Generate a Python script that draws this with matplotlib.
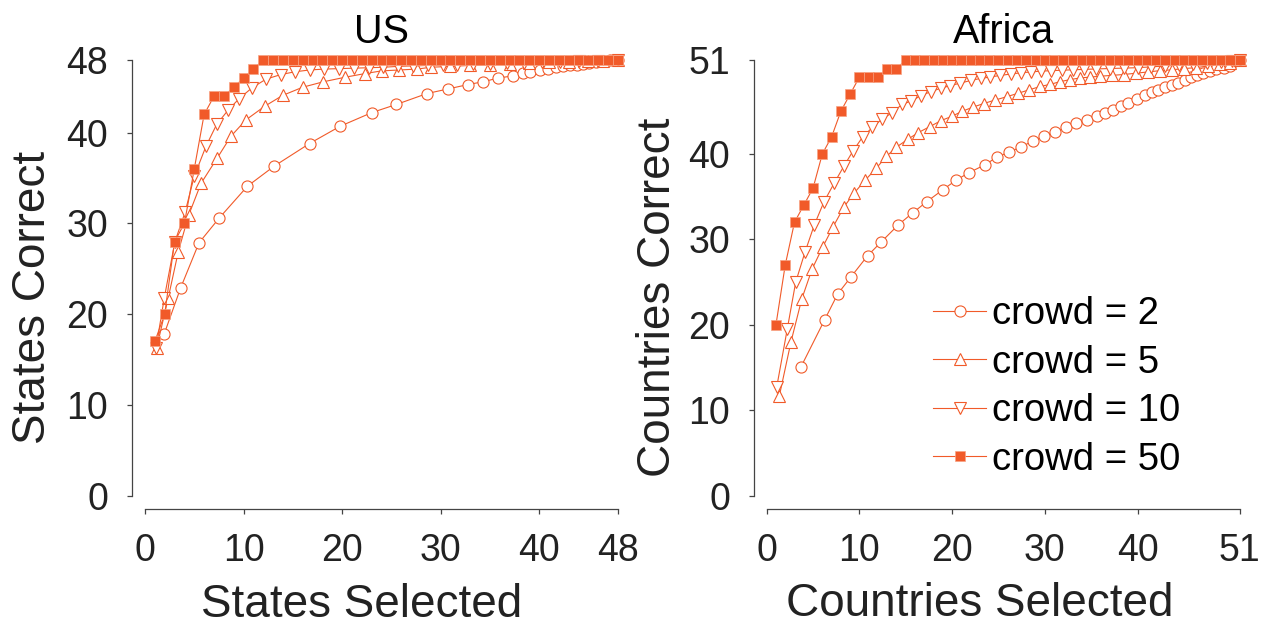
import numpy as np
import matplotlib
matplotlib.use('Agg')
import matplotlib.pyplot as plt

plt.rcParams['font.family'] = ['Liberation Sans', 'DejaVu Sans']

# ---- US panel ----
us_c2_x = [1.96, 3.62, 5.48, 7.54, 10.4, 13.1, 16.7, 19.8, 23.0, 25.5, 28.6, 30.7, 32.8, 34.3,
           35.8, 37.3, 38.4, 39.1, 40.1, 40.9, 41.75, 42.4, 43.1, 43.8, 44.45, 45.1, 45.8,
           46.5, 47.2, 48]
us_c2_y = [17.85, 22.9, 27.86, 30.6, 34.1, 36.3, 38.8, 40.7, 42.2, 43.1, 44.3, 44.8, 45.3, 45.6,
           46.0, 46.25, 46.55, 46.65, 46.9, 47.06, 47.2, 47.3, 47.4, 47.5, 47.6, 47.7, 47.8,
           47.85, 47.95, 48]

us_c5_x = [1.19, 2.36, 3.38, 4.43, 5.68, 7.33, 8.72, 10.24, 12.14, 13.97, 16.0, 18.1, 20.3, 22.3,
           24.0, 25.8, 27.6, 29.0, 31.0, 33.0, 35.0, 37.0, 39.0, 41.0, 43.0, 45.0, 46.5, 48]
us_c5_y = [16.3, 21.8, 26.9, 30.9, 34.4, 37.2, 39.6, 41.4, 42.9, 44.1, 45.0, 45.6, 46.1, 46.5,
           46.8, 46.9, 47.0, 47.2, 47.3, 47.4, 47.5, 47.6, 47.7, 47.75, 47.8, 47.85, 47.9, 48]

us_c10_x = [1.12, 1.96, 3.04, 4.06, 5.0, 6.19, 7.27, 8.45, 9.56, 10.9, 12.3, 13.8, 15.2, 16.7,
            18.2, 19.7, 21.2, 22.7, 24.2, 25.7, 27.2, 28.7, 30.2, 31.7, 33.3, 35.0, 36.7, 38.5,
            40.3, 42.1, 44.0, 46.0, 48]
us_c10_y = [16.3, 21.8, 28.0, 31.2, 35.2, 38.5, 40.9, 42.5, 43.75, 44.97, 45.9, 46.4, 46.7, 46.9,
            47.0, 47.05, 47.1, 47.15, 47.2, 47.3, 47.35, 47.4, 47.45, 47.5, 47.55, 47.6, 47.65,
            47.7, 47.75, 47.8, 47.85, 47.9, 48]

us_c50_x = np.arange(1, 49)
us_c50_y = [17, 20, 28, 30, 36, 42, 44, 44, 45, 46, 47, 48,
            48, 48, 48, 48, 48, 48, 48, 48, 48, 48, 48, 48, 48, 48, 48, 48, 48, 48,
            48, 48, 48, 48, 48, 48, 48, 48, 48, 48, 48, 48, 48, 48, 48, 48, 48, 48]

# ---- Africa panel ----
af_c2_x = [3.67, 6.26, 7.66, 9.09, 10.9, 12.36, 14.2, 15.75, 17.26, 18.99, 20.4, 21.8, 23.5, 24.8,
           26.1, 27.4, 28.7, 29.9, 31.1, 32.3, 33.4, 34.6, 35.6, 36.5, 37.4, 38.2, 39.0, 39.9,
           40.8, 41.6, 42.2, 43.0, 43.7, 44.4, 45.1, 45.8, 46.4, 47.1, 47.8, 48.5, 49.3, 50.0, 51]
af_c2_y = [15.0, 20.6, 23.6, 25.6, 28.1, 29.7, 31.7, 33.1, 34.4, 35.8, 36.9, 37.8, 38.7, 39.6,
           40.2, 40.8, 41.5, 42.1, 42.6, 43.1, 43.6, 44.0, 44.4, 44.75, 45.1, 45.6, 46.0, 46.4,
           46.9, 47.3, 47.5, 47.8, 48.1, 48.3, 48.65, 48.97, 49.2, 49.5, 49.7, 49.9, 50.1, 50.3, 51]

af_c5_x = [1.36, 2.62, 3.78, 4.89, 6.04, 7.18, 8.34, 9.42, 10.6, 11.8, 12.9, 14.0, 15.2, 16.35,
           17.6, 18.8, 19.96, 21.1, 22.3, 23.4, 24.6, 25.9, 27.1, 28.3, 29.5, 30.6, 31.6, 32.7,
           33.8, 34.9, 36.0, 37.2, 38.5, 39.8, 41.1, 42.4, 43.7, 45.0, 46.3, 47.6, 48.9, 50.0, 51]
af_c5_y = [11.65, 18.0, 23.0, 26.5, 29.1, 31.5, 33.8, 35.4, 36.9, 38.3, 39.7, 40.8, 41.7, 42.5,
           43.2, 43.9, 44.4, 45.0, 45.5, 45.9, 46.3, 46.7, 47.1, 47.5, 47.9, 48.15, 48.45, 48.7,
           48.9, 49.0, 49.1, 49.2, 49.3, 49.45, 49.6, 49.75, 49.85, 50.0, 50.1, 50.3, 50.5, 50.7, 51]

af_c10_x = [1.08, 2.22, 3.13, 4.13, 5.14, 6.18, 7.29, 8.34, 9.34, 10.36, 11.4, 12.4, 13.5, 14.6,
            15.6, 16.6, 17.7, 18.8, 19.8, 20.9, 22.0, 23.1, 24.1, 25.2, 26.3, 27.4, 28.5, 29.6,
            30.7, 31.8, 33.0, 34.2, 35.5, 37.0, 38.5, 40.0, 41.5, 43.0, 44.5, 46.0, 47.5, 49.0,
            50.2, 51]
af_c10_y = [12.7, 19.5, 25.0, 28.5, 31.7, 34.4, 36.6, 38.6, 40.4, 42.0, 43.1, 44.05, 44.8, 45.8,
            46.2, 46.8, 47.3, 47.7, 48.0, 48.3, 48.6, 48.85, 49.0, 49.2, 49.35, 49.5, 49.6, 49.7,
            49.75, 49.8, 49.85, 49.9, 49.95, 50.0, 50.05, 50.1, 50.2, 50.3, 50.4, 50.5, 50.6,
            50.75, 50.9, 51]

af_c50_x = np.arange(1, 52)
af_c50_y = [20, 27, 32, 34, 36, 40, 42, 45, 47, 49, 49, 49, 50, 50, 51,
            51, 51, 51, 51, 51, 51, 51, 51, 51, 51, 51, 51, 51, 51, 51, 51, 51, 51,
            51, 51, 51, 51, 51, 51, 51, 51, 51, 51, 51, 51, 51, 51, 51, 51, 51, 51]

labels = ['crowd = 2', 'crowd = 5', 'crowd = 10', 'crowd = 50']
us_ticks = [0, 10, 20, 30, 40, 48]
af_ticks = [0, 10, 20, 30, 40, 51]

color = '#F15A29'
W, H = 1261, 626


def style(ms, fill):
    if fill:
        return dict(color=color, lw=0.8, marker=ms, mec='#F7A384', mew=0.5,
                    mfc=color, clip_on=False)
    return dict(color=color, lw=0.8, marker=ms, mec=color, mew=0.8,
                mfc='white', clip_on=False)


def draw(ax, series, ticks, top, title, xlabel, ylabel, xl, yl):
    specs = [('o', 8, False), ('^', 8.5, False), ('v', 8.5, False), ('s', 6.9, True)]
    for (xs, ys), (m, s, f), lab in zip(series, specs, labels):
        ax.plot(xs, ys, markersize=s, label=lab, **style(m, f))
    ax.set_xlim(0, top)
    ax.set_ylim(0, top)
    ax.set_xticks(ticks)
    ax.set_yticks(ticks)
    for s in ['top', 'right']:
        ax.spines[s].set_visible(False)
    ax.spines['left'].set_position(('outward', 9.4))
    ax.spines['bottom'].set_position(('outward', 9.6))
    for s in ['left', 'bottom']:
        ax.spines[s].set_color('#444444')
        ax.spines[s].set_linewidth(0.9)
    ax.tick_params(direction='out', length=3.6, width=0.9, color='#444444',
                   labelsize=27, pad=13.5, labelcolor='#222222')
    ax.set_title(title, fontsize=28.5, pad=12)
    ax.set_xlabel(xlabel, fontsize=33, va='center', color='#222222')
    ax.set_ylabel(ylabel, fontsize=33, va='center', color='#222222')
    ax.xaxis.set_label_coords(xl, -0.25)
    ax.yaxis.set_label_coords(yl, 0.456)


fig = plt.figure(figsize=(W / 100, H / 100), dpi=100)
ax1 = fig.add_axes([145 / W, (H - 495.7) / H, 473 / W, 435.7 / H])
ax2 = fig.add_axes([766.7 / W, (H - 495.5) / H, 472.8 / W, 435.5 / H])

draw(ax1, [(us_c2_x, us_c2_y), (us_c5_x, us_c5_y), (us_c10_x, us_c10_y), (us_c50_x, us_c50_y)],
     us_ticks, 48, 'US', 'States Selected', 'States Correct', 0.458, -0.236)
draw(ax2, [(af_c2_x, af_c2_y), (af_c5_x, af_c5_y), (af_c10_x, af_c10_y), (af_c50_x, af_c50_y)],
     af_ticks, 51, 'Africa', 'Countries Selected', 'Countries Correct', 0.451, -0.229)

ax2.legend(loc='upper left', bbox_to_anchor=(933 / W, 1 - 296 / H),
           bbox_transform=fig.transFigure, frameon=False, fontsize=27.5,
           handlelength=1.4, handletextpad=0.15, labelspacing=0.33,
           borderpad=0, borderaxespad=0)

fig.savefig('out.png', dpi=100)
